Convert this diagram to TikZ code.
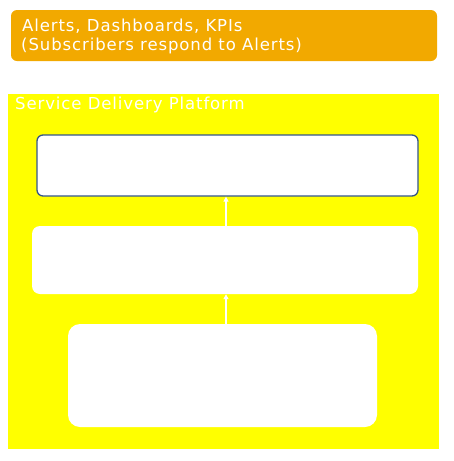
\documentclass[tikz,border=0pt]{standalone}
\usepackage{fontspec}
\setmainfont{DejaVu Sans}[LetterSpace=5.5]
\usetikzlibrary{arrows.meta}
\definecolor{orangebox}{HTML}{F2A900}
\definecolor{platform}{HTML}{FFFF00}
\definecolor{borderblue}{HTML}{34558B}
\tikzset{
  whitebox/.style={fill=white, draw=none},
  uparrow/.style={draw=white, line width=1.2pt, -{Triangle[width=5pt,length=5pt]}},
  label/.style={text=white, font=\fontsize{16.5}{19}\selectfont, inner sep=0pt, anchor=west}
}
\begin{document}
\begin{tikzpicture}[x=1pt,y=-1pt]
\useasboundingbox (0,0) rectangle (453,461);
% top orange box
\fill[orangebox, rounded corners=6pt] (11,10) rectangle (437,61);
\node[label] (l1) at (22,26) {Alerts, Dashboards, KPIs};
\node[label] (l2) at (21,46) {(Subscribers respond to Alerts)};
% platform
\fill[platform] (8,94) rectangle (439,449);
\node[label] (title) at (15,105) {Service Delivery Platform};
% boxes
\node[whitebox, draw=borderblue, line width=1.3pt, rounded corners=6pt, minimum width=381pt, minimum height=61pt, inner sep=0pt] (b1) at (227.5,165.5) {};
\node[whitebox, rounded corners=8pt, minimum width=386pt, minimum height=68pt, inner sep=0pt] (b2) at (225,260) {};
\node[whitebox, rounded corners=12pt, minimum width=309pt, minimum height=103pt, inner sep=0pt] (b3) at (222.5,375.5) {};
\draw[uparrow] (b2.north -| 226,0) -- (b1.south -| 226,0);
\draw[uparrow] (b3.north -| 226,0) -- (b2.south -| 226,0);
\end{tikzpicture}
\end{document}
